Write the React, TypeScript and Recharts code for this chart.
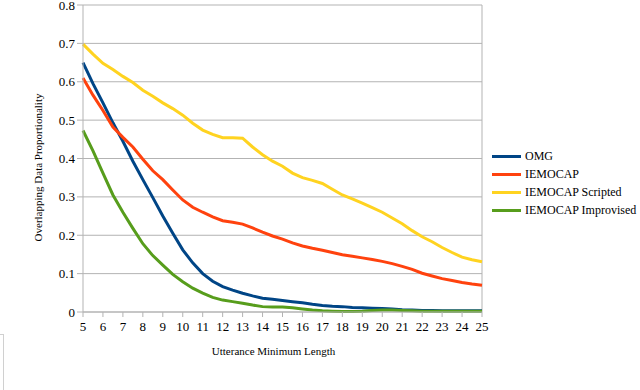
import React from 'react';
import { LineChart, Line, XAxis, YAxis, CartesianGrid, Legend, ReferenceLine } from 'recharts';

const lengths = [5, 5.5, 6, 6.5, 7, 7.5, 8, 8.5, 9, 9.5, 10, 10.5, 11, 11.5, 12, 12.5, 13, 13.5, 14, 14.5, 15, 15.5, 16, 16.5, 17, 17.5, 18, 18.5, 19, 19.5, 20, 20.5, 21, 21.5, 22, 22.5, 23, 23.5, 24, 24.5, 25];

const omg = [0.65, 0.595, 0.545, 0.493, 0.445, 0.393, 0.345, 0.298, 0.25, 0.205, 0.162, 0.128, 0.1, 0.08, 0.066, 0.057, 0.049, 0.042, 0.036, 0.033, 0.03, 0.027, 0.024, 0.02, 0.017, 0.015, 0.014, 0.012, 0.011, 0.01, 0.009, 0.008, 0.006, 0.005, 0.004, 0.004, 0.003, 0.003, 0.003, 0.003, 0.003];

const iemocap = [0.61, 0.565, 0.525, 0.482, 0.455, 0.43, 0.398, 0.368, 0.345, 0.318, 0.292, 0.273, 0.26, 0.248, 0.238, 0.234, 0.229, 0.219, 0.208, 0.198, 0.19, 0.18, 0.172, 0.166, 0.161, 0.155, 0.149, 0.145, 0.141, 0.137, 0.132, 0.126, 0.119, 0.111, 0.101, 0.094, 0.087, 0.082, 0.077, 0.073, 0.07];

const scripted = [0.698, 0.672, 0.648, 0.632, 0.614, 0.598, 0.578, 0.562, 0.545, 0.53, 0.513, 0.492, 0.474, 0.463, 0.454, 0.454, 0.453, 0.43, 0.41, 0.393, 0.38, 0.362, 0.35, 0.343, 0.335, 0.32, 0.305, 0.295, 0.284, 0.272, 0.26, 0.245, 0.23, 0.212, 0.196, 0.183, 0.168, 0.155, 0.143, 0.136, 0.131];

const improvised = [0.473, 0.42, 0.362, 0.305, 0.26, 0.218, 0.178, 0.147, 0.122, 0.098, 0.079, 0.062, 0.049, 0.038, 0.031, 0.027, 0.023, 0.018, 0.014, 0.013, 0.013, 0.011, 0.008, 0.005, 0.003, 0.002, 0.001, 0.001, 0.002, 0.004, 0.005, 0.005, 0.004, 0.003, 0.002, 0.002, 0.002, 0.002, 0.002, 0.002, 0.002];

const xTicks = [5, 6, 7, 8, 9, 10, 11, 12, 13, 14, 15, 16, 17, 18, 19, 20, 21, 22, 23, 24, 25];
const yTicks = [0, 0.1, 0.2, 0.3, 0.4, 0.5, 0.6, 0.7, 0.8];

const seriesNames = ['OMG', 'IEMOCAP', 'IEMOCAP Scripted', 'IEMOCAP Improvised'];
const seriesKeys = ['omg', 'iemocap', 'scripted', 'improvised'];
const seriesColors = ['#004586', '#ff420e', '#ffd320', '#579d1c'];

const data = lengths.map((x, i) => ({
  x,
  omg: omg[i],
  iemocap: iemocap[i],
  scripted: scripted[i],
  improvised: improvised[i],
}));

const FONT = '"Liberation Serif", "Times New Roman", serif';

const LegendContent = () => (
  <div style={{ fontFamily: FONT, fontSize: 12, color: '#000' }}>
    {seriesNames.map((n, i) => (
      <div key={n} style={{ display: 'flex', alignItems: 'center', height: 18 }}>
        <div style={{ width: 29, height: 3, background: seriesColors[i], marginRight: 4 }} />
        <span>{n}</span>
      </div>
    ))}
  </div>
);

export default function App() {
  return (
    <div style={{ position: 'absolute', left: 0, top: 0, width: 640, height: 390, background: '#fff' }}>
      <div style={{ position: 'absolute', left: 0, top: 334, width: 3, height: 56, borderTop: '1px solid #d0d0d0', borderRight: '1px solid #d0d0d0' }} />
      <LineChart width={640} height={390} data={data} margin={{ top: 5, right: 10, bottom: 48, left: 43 }}>
        <CartesianGrid vertical={false} stroke="#b3b3b3" strokeWidth={1} />
        <ReferenceLine x={25} stroke="#b3b3b3" strokeWidth={1} />
        <XAxis
          dataKey="x"
          type="number"
          domain={[5, 25]}
          ticks={xTicks}
          interval={0}
          height={30}
          stroke="#b3b3b3"
          tickSize={5}
          tickMargin={5}
          tick={{ fill: '#000', fontSize: 13, fontFamily: FONT }}
          label={{ value: 'Utterance Minimum Length', position: 'bottom', offset: 5, dx: -9, style: { fill: '#000', fontSize: 11, fontFamily: FONT } }}
        />
        <YAxis
          type="number"
          domain={[0, 0.8]}
          ticks={yTicks}
          interval={0}
          width={40}
          stroke="#b3b3b3"
          tickSize={6}
          tickMargin={2}
          tickFormatter={(v: number) => (v === 0 ? '0' : String(v))}
          tick={{ fill: '#000', fontSize: 13, fontFamily: FONT }}
          label={{ value: 'Overlapping Data Proportionality', angle: -90, position: 'center', dx: -25, dy: 9, style: { fill: '#000', fontSize: 11, fontFamily: FONT, textAnchor: 'middle' } }}
        />
        <Legend
          layout="horizontal"
          verticalAlign="middle"
          align="right"
          content={<LegendContent />}
          wrapperStyle={{ left: 492, top: 147, width: 148 }}
        />
        {seriesKeys.map((k, i) => (
          <Line
            key={k}
            dataKey={k}
            name={seriesNames[i]}
            stroke={seriesColors[i]}
            strokeWidth={3}
            dot={false}
            type="linear"
            isAnimationActive={false}
          />
        ))}
      </LineChart>
    </div>
  );
}
